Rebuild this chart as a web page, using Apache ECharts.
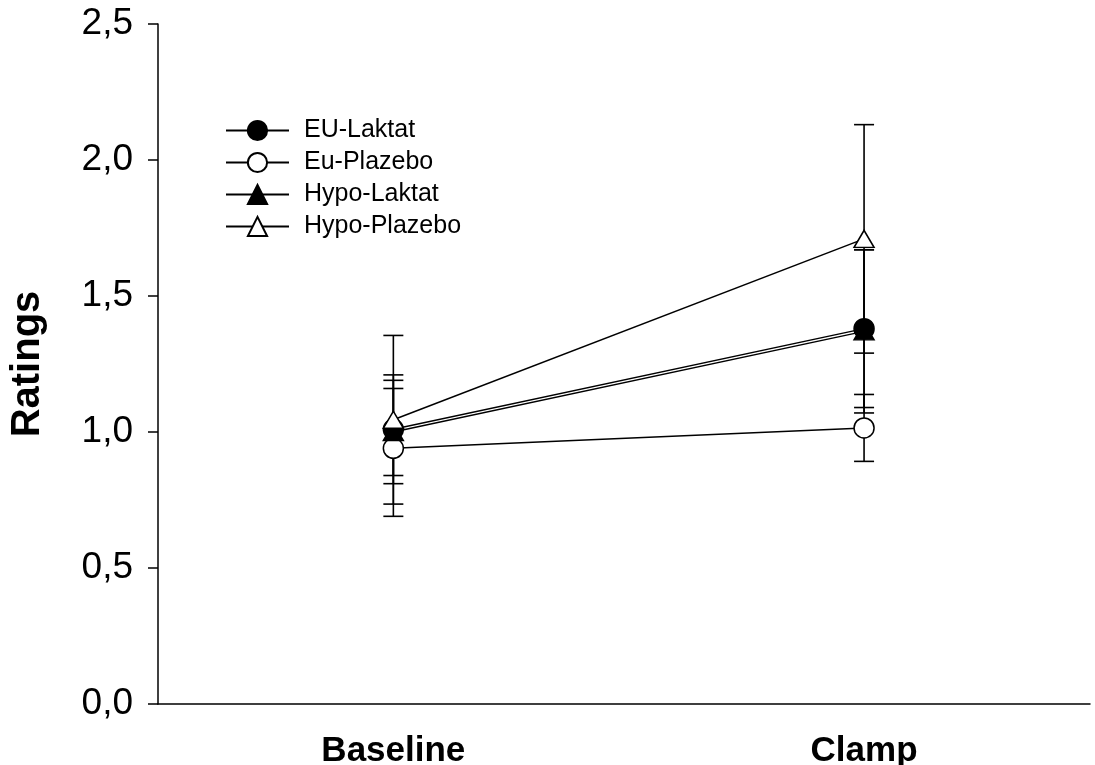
<!DOCTYPE html>
<html>
<head>
<meta charset="utf-8">
<script src="https://cdn.jsdelivr.net/npm/echarts@6/dist/echarts.min.js"></script>
<style>
html,body{margin:0;padding:0;background:#fff;}
#chart{width:1095px;height:765px;}
</style>
</head>
<body>
<div id="chart"></div>
<script>
// ---- data ----
const categories = ['Baseline', 'Clamp'];
const xPositions = [1, 2];
const seriesNames = ['EU-Laktat', 'Eu-Plazebo', 'Hypo-Laktat', 'Hypo-Plazebo'];
const euLaktat = [1.01, 1.38];
const euLaktatErr = [0.20, 0.29];
const euPlazebo = [0.94, 1.015];
const euPlazeboErr = [0.25, 0.123];
const hypoLaktat = [1.00, 1.37];
const hypoLaktatErr = [0.16, 0.30];
const hypoPlazebo = [1.045, 1.71];
const hypoPlazeboErr = [0.31, 0.42];
const yTickValues = [0, 0.5, 1.0, 1.5, 2.0, 2.5];

const FONT = "'Liberation Sans', Arial, sans-serif";
const means = [euLaktat, euPlazebo, hypoLaktat, hypoPlazebo];
const errs = [euLaktatErr, euPlazeboErr, hypoLaktatErr, hypoPlazeboErr];
const symbols = ['circle', 'circle', 'triangle', 'triangle'];
const filled = [true, false, true, false];
const sizes = [20, 20, [20, 17], [20, 17]];

const series = [];
// error bars
means.forEach((m, si) => {
  series.push({
    type: 'custom',
    name: seriesNames[si] + ' err',
    z: 1,
    silent: true,
    data: xPositions.map((x, i) => [x, m[i] - errs[si][i], m[i] + errs[si][i]]),
    encode: { x: 0, y: [1, 2] },
    renderItem: function (params, api) {
      const lo = api.coord([api.value(0), api.value(1)]);
      const hi = api.coord([api.value(0), api.value(2)]);
      const hw = 10;
      const st = { stroke: '#000', lineWidth: 1.6 };
      return {
        type: 'group',
        children: [
          { type: 'line', shape: { x1: lo[0], y1: lo[1], x2: hi[0], y2: hi[1] }, style: st },
          { type: 'line', shape: { x1: lo[0] - hw, y1: lo[1], x2: lo[0] + hw, y2: lo[1] }, style: st },
          { type: 'line', shape: { x1: hi[0] - hw, y1: hi[1], x2: hi[0] + hw, y2: hi[1] }, style: st }
        ]
      };
    }
  });
});
// lines with markers
means.forEach((m, si) => {
  series.push({
    type: 'line',
    name: seriesNames[si],
    z: 3,
    data: xPositions.map((x, i) => [x, m[i]]),
    symbol: symbols[si],
    symbolSize: sizes[si],
    showAllSymbol: true,
    lineStyle: { color: '#000', width: 1.5 },
    itemStyle: {
      color: filled[si] ? '#000' : '#fff',
      borderColor: '#000',
      borderWidth: 1.5,
      opacity: 1
    },
    emphasis: { disabled: true },
    animation: false
  });
});

const chart = echarts.init(document.getElementById('chart'), null, { renderer: 'canvas' });
chart.setOption({
  animation: false,
  backgroundColor: '#fff',
  grid: { left: 158, top: 24, right: 5, bottom: 61, containLabel: false, outerBoundsMode: 'none' },
  legend: {
    data: seriesNames.map(n => ({ name: n })),
    orient: 'vertical',
    left: 220,
    top: 113,
    itemWidth: 63,
    itemHeight: 24,
    itemGap: 7,
    textStyle: { fontFamily: FONT, fontSize: 25, color: '#000', padding: [0, 0, 0, 10] },
    selectedMode: false
  },
  xAxis: {
    type: 'value',
    min: 0.5,
    max: 2.48,
    interval: 0.5,
    splitLine: { show: false },
    axisTick: { show: false },
    axisLine: { show: true, onZero: false, lineStyle: { color: '#000', width: 1.5 } },
    axisLabel: {
      showMaxLabel: false,
      margin: 30,
      fontFamily: FONT,
      fontSize: 35,
      fontWeight: 'bold',
      color: '#000',
      formatter: function (v) {
        const i = xPositions.indexOf(v);
        return i >= 0 ? categories[i] : '';
      }
    }
  },
  yAxis: {
    type: 'value',
    min: 0,
    max: 2.5,
    interval: 0.5,
    name: 'Ratings',
    nameLocation: 'middle',
    nameGap: 110,
    nameRotate: 90,
    nameTextStyle: { fontFamily: FONT, fontSize: 40, fontWeight: 'bold', color: '#000' },
    splitLine: { show: false },
    axisLine: { show: true, lineStyle: { color: '#000', width: 1.5 } },
    axisTick: { show: true, inside: false, length: 10, lineStyle: { color: '#000', width: 1.5 } },
    axisLabel: {
      margin: 25,
      fontFamily: FONT,
      fontSize: 37,
      color: '#000',
      formatter: function (v) {
        const t = yTickValues.find(x => Math.abs(x - v) < 1e-9);
        return t === undefined ? '' : t.toFixed(1).replace('.', ',');
      }
    }
  },
  series: series
});
</script>
</body>
</html>
